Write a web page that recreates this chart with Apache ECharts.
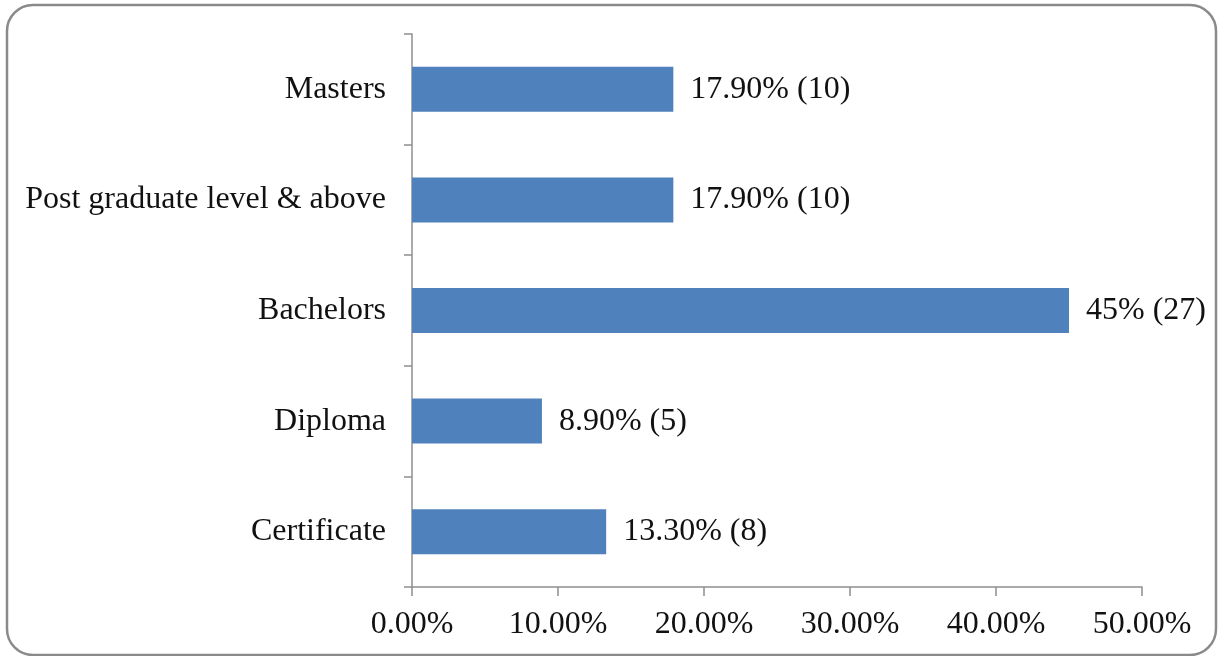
<!DOCTYPE html>
<html>
<head>
<meta charset="utf-8">
<script src="https://cdn.jsdelivr.net/npm/echarts@6/dist/echarts.min.js"></script>
<style>
  html, body { margin: 0; padding: 0; background: #ffffff; }
  #chart { width: 1218px; height: 656px; }
</style>
</head>
<body>
<div id="chart"></div>
<script>
// Education level of respondents (share of respondents, with counts)
const categories = ['Certificate', 'Diploma', 'Bachelors', 'Post graduate level & above', 'Masters'];
const percentages = [13.3, 8.9, 45, 17.9, 17.9];
const barLabels = ['13.30% (8)', '8.90% (5)', '45% (27)', '17.90% (10)', '17.90% (10)'];
const axisMin = 0;
const axisMax = 50;
const axisStep = 10;

const chart = echarts.init(document.getElementById('chart'), null, { renderer: 'canvas' });

const fontFamily = '"Liberation Serif", "Times New Roman", serif';
const axisColor = '#8e8e8e';

chart.setOption({
  animation: false,
  backgroundColor: '#ffffff',
  graphic: [{
    type: 'rect',
    shape: { x: 7, y: 5, width: 1209, height: 650, r: 26 },
    style: { fill: 'none', stroke: '#8a8a8a', lineWidth: 2.5 },
    silent: true,
    z: -1
  }],
  grid: { left: 412, right: 76, top: 34, bottom: 69, containLabel: false },
  xAxis: {
    type: 'value',
    min: axisMin,
    max: axisMax,
    interval: axisStep,
    axisLine: { show: true, lineStyle: { color: axisColor, width: 1.5 } },
    axisTick: { show: true, length: 9, lineStyle: { color: axisColor, width: 1.5 } },
    splitLine: { show: false },
    axisLabel: {
      color: '#111111',
      fontFamily: fontFamily,
      fontSize: 32,
      margin: 22,
      formatter: v => v.toFixed(2) + '%'
    }
  },
  yAxis: {
    type: 'category',
    data: categories,
    axisLine: { show: true, lineStyle: { color: axisColor, width: 1.5 } },
    axisTick: { show: true, length: 8, lineStyle: { color: axisColor, width: 1.5 } },
    axisLabel: {
      color: '#111111',
      fontFamily: fontFamily,
      fontSize: 32,
      margin: 26,
      padding: [4, 0, 0, 0]
    }
  },
  series: [{
    type: 'bar',
    data: percentages,
    barWidth: 45,
    itemStyle: { color: '#4f81bd' },
    label: {
      show: true,
      position: 'right',
      distance: 17,
      color: '#111111',
      fontFamily: fontFamily,
      fontSize: 32,
      padding: [12, 0, 0, 0],
      formatter: p => barLabels[p.dataIndex]
    }
  }]
});
</script>
</body>
</html>
